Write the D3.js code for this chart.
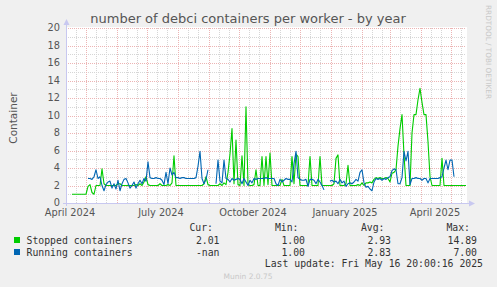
<!DOCTYPE html>
<html>
<head>
<meta charset="utf-8">
<script src="https://cdn.jsdelivr.net/npm/d3@7"></script>
<style>
  html, body { margin: 0; padding: 0; background: #f0f0f0; }
  svg { display: block; }
  text { font-family: "DejaVu Sans", sans-serif; }
  .mono { font-family: "DejaVu Sans Mono", monospace; }
</style>
</head>
<body>
<svg id="chart" width="497" height="287"></svg>
<script>
// samples every 2 days from 11 Apr 2024 (null = no data)
const startDay = "2024-04-11";
const stepDays = 2;
const stopped = [
  null, null, null, 1, 1, 1, 1, 1, 1, 1, 1, 1.9, 2.1, 1.2, 1.0, 2.0, 2.0, 2.0, 3.9, 2.2,
  2.0, 2, 2, 2, 2, 2, 2.2, 2.2, 2, 2, 2, 2, 2, 2, 2, 2.1, 2, 2.2, 2, 2.4,
  3.0, 2.1, 2, 2, 2, 2, 2, 2.2, 2, 2, 2, 2.1, 2, 2.3, 5.4, 2, 2, 2, 2, 2,
  2, 2, 2, 2, 2, 2, 2, 2, 2, 2.2, 3.0, 2.1, 2, 2, 2, 2, 2, 2.2, 2, 2.3,
  2.1, 3.5, 5.6, 8.5, 2.2, 7.2, 2.1, 2.0, 5.4, 2, 11.0, 2.1, 2, 2, 2.1, 3.8, 2, 2, 5.3, 2,
  5.3, 2.1, 5.7, 2, 2, 2, 2, 2, 2.7, 2, 2, 2, 2, 5.3, 2.2, 5.6, 5.3, 2, 2, 2,
  2, 2, 5.3, 2, 2, 2, 2, 5.3, 2, 2, 2, 2, 2, 2, 2.2, 5.1, 5.5, 2, 2, 2,
  2.2, 4.3, 2, 2, 2, 2, 2.1, 2, 2.3, 2, 2.3, 2.3, 2.4, 2.3, 2.7, 2.9, 2.8, 2.9, 2.8, 2.8,
  2.9, 2.8, 2.4, 3.4, 3.5, 3.8, 6.5, 8.5, 10.1, 5.5, 2, 2, 2, 8.0, 10.1, 10.1, 11.8, 13.1, 11.5, 10.1,
  10.1, 7.0, 3.0, 2, 2, 2, 2, 2, 5.1, 2, 2, 2, 2, 2, 2, 2, 2, 2, 2, 2,
  2
];
const running = [
  null, null, null, null, null, null, null, null, null, null, null, 2.8, 2.8, 2.7, 3.0, 3.8, 2.8, 3.0, 2.0, 1.4,
  2.1, 2.4, 2.5, 1.7, 2.2, 1.6, 2.6, 1.4, 2.2, 2.7, 2.8, 2.3, 1.7, 2.0, 2.4, 1.7, 2.2, 2.6, 2.2, 2.8,
  2.5, 4.7, 2.9, 2.8, 2.8, 2.9, 2.8, 2.8, 2.6, 2.1, 3.5, 2.2, 4.0, 3.2, 3.5, 2.9, 2.9, 2.8, 2.9, 2.9,
  2.8, 2.8, 2.8, 2.8, 2.8, 2.9, 4.2, 5.9, 2.8, 2.2, 2.7, 3.8, null, null, null, 2.2, 4.9, 2.5, 2.3, 4.9,
  2.8, 2.7, 2.4, 2.8, 2.6, 2.7, 2.8, 2.7, 2.2, 2.8, 2.4, 2.0, 2.6, 2.3, 2.8, 2.7, 2.8, 2.8, 2.8, 2.8,
  2.9, 2.8, 2.8, 2.8, 2.8, 2.2, 2.0, 2.7, 2.4, 2.6, 2.8, 2.7, 2.7, 2.4, 4.5, 5.9, 2.9, 2.7, 2.6, 2.6,
  2.7, 1.9, 2.7, 2.7, 2.6, 2.2, 2.7, 2.4, 2.0, 1.5, null, null, 2.5, 2.6, 2.4, 2.5, 2.2, 2.7, 2.3, 2.5,
  1.9, 2.2, 2.3, 2.2, 2.4, 2.7, 2.5, 3.5, 3.8, 2.3, 1.8, 1.9, 1.6, 1.4, 2.4, 2.8, 2.7, 2.8, 2.6, 2.8,
  2.7, 2.9, 3.0, 3.7, 3.9, 3.8, 2.2, 2.2, 2.9, 5.9, 4.8, 5.9, 2.1, 2.8, 2.8, 2.9, 2.8, 2.8, 2.6, 2.8,
  2.8, 2.3, 2.8, 2.8, 2.8, 2.8, 2.8, 2.9, 3.0, 4.0, 4.9, 3.8, 4.9, 4.9, 3.0, null, null, null, null, null,
  null
];
const seriesNames = ["Stopped containers", "Running containers"];
const seriesColors = ["#00cc00", "#0066b3"];
const curValues = ["2.01", "-nan"];
const minValues = ["1.00", "1.00"];
const avgValues = ["2.93", "2.83"];
const maxValues = ["14.89", "7.00"];
const xLabelMonths = ["2024-04-15", "2024-07-15", "2024-10-15", "2025-01-15", "2025-04-15"];
const yTicks = d3.range(0, 21, 2);
const endDay = "2025-05-16";

const svg = d3.select("#chart");
const pLeft = 66, pRight = 466, pTop = 28, pBottom = 203;
const parse = d3.utcParse("%Y-%m-%d");
const t0 = parse(startDay);

var x = d3.scaleUtc().domain([t0, parse(endDay)]).range([pLeft, pRight]);
var y = d3.scaleLinear().domain([0, 20]).range([pBottom, pTop]);

// plot background
svg.append("rect").attr("x", pLeft).attr("y", pTop - 1).attr("width", pRight - pLeft + 1)
  .attr("height", pBottom - pTop + 1).attr("fill", "#fff");

// grid: minor
var minorDays = [];
[d3.utcMonth.floor(t0)].concat(d3.utcMonths(t0, parse(endDay))).forEach(m => {
  [10, 20].forEach(o => {
    var d = d3.utcDay.offset(m, o);
    if (x(d) > pLeft && x(d) < pRight) minorDays.push(d);
  });
});
var minorCol = "#d6d6d6", majorCol = "#ecb4b4";
svg.append("g").selectAll("line").data(minorDays).join("line")
  .attr("x1", d => Math.round(x(d)) + 0.5).attr("x2", d => Math.round(x(d)) + 0.5)
  .attr("y1", pTop).attr("y2", pBottom)
  .attr("stroke", minorCol).attr("stroke-dasharray", "1,1");
svg.append("g").selectAll("line").data(d3.range(1, 21, 2)).join("line")
  .attr("x1", pLeft).attr("x2", pRight)
  .attr("y1", d => Math.round(y(d)) + 0.5).attr("y2", d => Math.round(y(d)) + 0.5)
  .attr("stroke", minorCol).attr("stroke-dasharray", "1,1");

// grid: major
svg.append("g").selectAll("line").data(d3.utcMonths(t0, parse(endDay))).join("line")
  .attr("x1", d => Math.round(x(d)) + 0.5).attr("x2", d => Math.round(x(d)) + 0.5)
  .attr("y1", pTop).attr("y2", pBottom)
  .attr("stroke", majorCol).attr("stroke-dasharray", "1,1");
svg.append("g").selectAll("line").data(yTicks.filter(d => d > 0)).join("line")
  .attr("x1", pLeft).attr("x2", pRight)
  .attr("y1", d => Math.round(y(d)) + 0.5).attr("y2", d => Math.round(y(d)) + 0.5)
  .attr("stroke", majorCol).attr("stroke-dasharray", "1,1");

// axes
var axisCol = "#c8c8f0";
svg.append("line").attr("x1", pLeft + 0.5).attr("x2", pLeft + 0.5).attr("y1", pBottom + 3).attr("y2", pTop - 4)
  .attr("stroke", axisCol);
svg.append("line").attr("x1", pLeft - 3).attr("x2", pRight + 4).attr("y1", pBottom + 0.5).attr("y2", pBottom + 0.5)
  .attr("stroke", axisCol);
svg.append("path").attr("d", `M${pLeft - 2.5},${pTop - 3}L${pLeft + 3.5},${pTop - 3}L${pLeft + 0.5},${pTop - 9}Z`).attr("fill", axisCol);
svg.append("path").attr("d", `M${pRight + 3},${pBottom - 2.5}L${pRight + 3},${pBottom + 3.5}L${pRight + 9},${pBottom + 0.5}Z`).attr("fill", axisCol);

// y tick labels
svg.append("g").selectAll("text").data(yTicks).join("text")
  .attr("x", 60).attr("y", d => y(d)).attr("dy", "0.33em")
  .attr("text-anchor", "end").attr("font-size", "9.8px").attr("fill", "#555")
  .text(d => d);

// x labels (centred on the month)
svg.append("g").selectAll("text").data(xLabelMonths).join("text")
  .attr("x", d => x(parse(d))).attr("y", 216)
  .attr("text-anchor", "middle").attr("font-size", "9.8px").attr("fill", "#555")
  .text(d => d3.utcFormat("%B %Y")(parse(d)));

// series
[stopped, running].forEach((vals, i) => {
  var line = d3.line()
    .defined(d => d != null)
    .x((d, k) => x(d3.utcDay.offset(t0, k * stepDays)))
    .y(d => y(d));
  svg.append("path").datum(vals).attr("d", line)
    .attr("fill", "none").attr("stroke", seriesColors[i]).attr("stroke-width", 1.1)
    .attr("stroke-linejoin", "round");
});

// title
svg.append("text").attr("x", 248).attr("y", 23).attr("text-anchor", "middle")
  .attr("font-size", "13px").attr("fill", "#555")
  .text("number of debci containers per worker - by year");

// y axis title
svg.append("text").attr("transform", "translate(17,118) rotate(-90)")
  .attr("text-anchor", "middle").attr("font-size", "10.5px").attr("fill", "#555")
  .text("Container");

// watermark
svg.append("text").attr("transform", "translate(485.5,5) rotate(90)")
  .attr("font-size", "7.3px").attr("fill", "#c8c8c8")
  .text("RRDTOOL / TOBI OETIKER");

// legend
var leg = svg.append("g").attr("class", "mono").attr("font-size", "9.8px").attr("fill", "#333");
[["Cur:", 213], ["Min:", 298.5], ["Avg:", 384.5], ["Max:", 470]].forEach(h => {
  leg.append("text").attr("class", "mono").attr("x", h[1]).attr("y", 231).attr("text-anchor", "end").text(h[0]);
});
seriesNames.forEach((n, i) => {
  var ry = 243.5 + i * 12;
  leg.append("rect").attr("x", 14).attr("y", ry - 6.5).attr("width", 6).attr("height", 6).attr("fill", seriesColors[i]);
  leg.append("text").attr("class", "mono").attr("x", 26.5).attr("y", ry).text(n);
  [[curValues, 219.5], [minValues, 305], [avgValues, 391], [maxValues, 477]].forEach(c => {
    leg.append("text").attr("class", "mono").attr("x", c[1]).attr("y", ry).attr("text-anchor", "end").text(c[0][i]);
  });
});
leg.append("text").attr("class", "mono").attr("x", 483).attr("y", 267).attr("text-anchor", "end")
  .text("Last update: Fri May 16 20:00:16 2025");

svg.append("text").attr("x", 248).attr("y", 279).attr("text-anchor", "middle")
  .attr("font-size", "7.5px").attr("fill", "#c8c8c8").text("Munin 2.0.75");
</script>
</body>
</html>
